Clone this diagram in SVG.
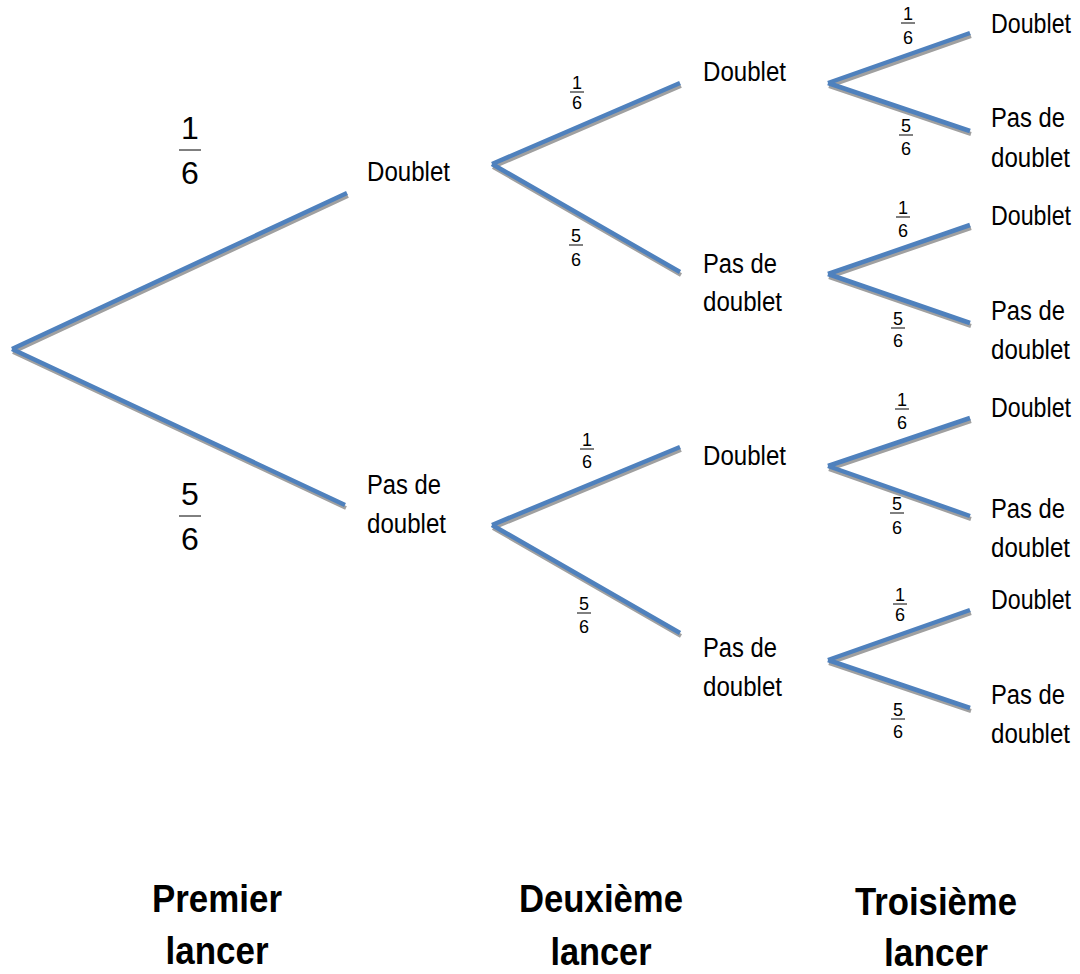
<svg xmlns="http://www.w3.org/2000/svg" xmlns:xlink="http://www.w3.org/1999/xlink" width="1080" height="974" viewBox="0 0 1080 974">
<style>
.br{stroke:#4F81BD;stroke-width:4.5;fill:none;stroke-linecap:butt}
.sh{stroke:#A0A0A0;stroke-width:4;fill:none}
.lb{font-family:"Liberation Sans",Arial,sans-serif;font-size:27px;fill:#000}
.fs{font-family:"Liberation Sans",Arial,sans-serif;font-size:18px;fill:#000;text-anchor:middle}
.fb{font-family:"Liberation Sans",Arial,sans-serif;font-size:32px;fill:#000;text-anchor:middle}
.tt{font-family:"Liberation Sans",Arial,sans-serif;font-size:38px;font-weight:bold;fill:#000;text-anchor:middle}
.bar{stroke:#000;stroke-width:1}
</style>
<defs>
<g id="lines">
<path d="M12,349 L347,193 M12,349 L345,505"/>
<path d="M492,164 L680,83 M492,164 L680,272"/>
<path d="M492,525 L680,447 M492,525 L680,633"/>
<path d="M828,83 L970,33 M828,83 L970,131"/>
<path d="M828,274 L970,225 M828,274 L970,323"/>
<path d="M828,466 L970,418 M828,466 L970,516"/>
<path d="M828,660 L970,610 M828,660 L970,708"/>
</g>
</defs>
<g id="connectors">
<use xlink:href="#lines" class="sh" transform="translate(1,3)"/>
<use xlink:href="#lines" class="br"/>
</g>
<g id="n-d1"><text class="lb" x="367" y="181" textLength="83" lengthAdjust="spacingAndGlyphs">Doublet</text></g>
<g id="n-p1"><text class="lb" x="367" y="494" textLength="74" lengthAdjust="spacingAndGlyphs">Pas de</text><text class="lb" x="367" y="533" textLength="79" lengthAdjust="spacingAndGlyphs">doublet</text></g>
<g id="n-dd"><text class="lb" x="703" y="81" textLength="83" lengthAdjust="spacingAndGlyphs">Doublet</text></g>
<g id="n-dp"><text class="lb" x="703" y="273" textLength="74" lengthAdjust="spacingAndGlyphs">Pas de</text><text class="lb" x="703" y="311" textLength="79" lengthAdjust="spacingAndGlyphs">doublet</text></g>
<g id="n-pd"><text class="lb" x="703" y="465" textLength="83" lengthAdjust="spacingAndGlyphs">Doublet</text></g>
<g id="n-pp"><text class="lb" x="703" y="657" textLength="74" lengthAdjust="spacingAndGlyphs">Pas de</text><text class="lb" x="703" y="696" textLength="79" lengthAdjust="spacingAndGlyphs">doublet</text></g>
<g id="leaves">
<text class="lb" transform="translate(991,33) scale(0.86,1)">Doublet</text>
<text class="lb" x="991" y="127" textLength="74" lengthAdjust="spacingAndGlyphs">Pas de</text><text class="lb" x="991" y="167" textLength="79" lengthAdjust="spacingAndGlyphs">doublet</text>
<text class="lb" transform="translate(991,225) scale(0.86,1)">Doublet</text>
<text class="lb" x="991" y="320" textLength="74" lengthAdjust="spacingAndGlyphs">Pas de</text><text class="lb" x="991" y="359" textLength="79" lengthAdjust="spacingAndGlyphs">doublet</text>
<text class="lb" transform="translate(991,417) scale(0.86,1)">Doublet</text>
<text class="lb" x="991" y="518" textLength="74" lengthAdjust="spacingAndGlyphs">Pas de</text><text class="lb" x="991" y="557" textLength="79" lengthAdjust="spacingAndGlyphs">doublet</text>
<text class="lb" transform="translate(991,609) scale(0.86,1)">Doublet</text>
<text class="lb" x="991" y="704" textLength="74" lengthAdjust="spacingAndGlyphs">Pas de</text><text class="lb" x="991" y="743" textLength="79" lengthAdjust="spacingAndGlyphs">doublet</text>
</g>
<g id="fractions-big">
<text class="fb" x="190" y="139">1</text><line class="bar" x1="179" y1="150" x2="201" y2="150"/><text class="fb" x="190" y="184">6</text>
<text class="fb" x="190" y="505">5</text><line class="bar" x1="179" y1="516" x2="201" y2="516"/><text class="fb" x="190" y="550">6</text>
</g>
<g id="fractions-small">
<text class="fs" x="577" y="89">1</text><line class="bar" x1="570" y1="92" x2="584" y2="92"/><text class="fs" x="577" y="109">6</text>
<text class="fs" x="576" y="242">5</text><line class="bar" x1="569" y1="245" x2="583" y2="245"/><text class="fs" x="576" y="266">6</text>
<text class="fs" x="587" y="446">1</text><line class="bar" x1="580" y1="449" x2="594" y2="449"/><text class="fs" x="587" y="468">6</text>
<text class="fs" x="584" y="610">5</text><line class="bar" x1="577" y1="613" x2="591" y2="613"/><text class="fs" x="584" y="633">6</text>
<text class="fs" x="908" y="20">1</text><line class="bar" x1="901" y1="23" x2="915" y2="23"/><text class="fs" x="908" y="44">6</text>
<text class="fs" x="906" y="132">5</text><line class="bar" x1="899" y1="135" x2="913" y2="135"/><text class="fs" x="906" y="155">6</text>
<text class="fs" x="903" y="214">1</text><line class="bar" x1="896" y1="217" x2="910" y2="217"/><text class="fs" x="903" y="237">6</text>
<text class="fs" x="898" y="325">5</text><line class="bar" x1="891" y1="328" x2="905" y2="328"/><text class="fs" x="898" y="347">6</text>
<text class="fs" x="902" y="406">1</text><line class="bar" x1="895" y1="409" x2="909" y2="409"/><text class="fs" x="902" y="429">6</text>
<text class="fs" x="897" y="510">5</text><line class="bar" x1="890" y1="513" x2="904" y2="513"/><text class="fs" x="897" y="534">6</text>
<text class="fs" x="900" y="601">1</text><line class="bar" x1="893" y1="604" x2="907" y2="604"/><text class="fs" x="900" y="621">6</text>
<text class="fs" x="898" y="716">5</text><line class="bar" x1="891" y1="719" x2="905" y2="719"/><text class="fs" x="898" y="738">6</text>
</g>
<g id="titles">
<text class="tt" x="217" y="912" textLength="130" lengthAdjust="spacingAndGlyphs">Premier</text><text class="tt" x="217" y="964" textLength="103" lengthAdjust="spacingAndGlyphs">lancer</text>
<text class="tt" x="601" y="912" textLength="164" lengthAdjust="spacingAndGlyphs">Deuxième</text><text class="tt" x="601" y="965" textLength="101" lengthAdjust="spacingAndGlyphs">lancer</text>
<text class="tt" x="936" y="915" textLength="162" lengthAdjust="spacingAndGlyphs">Troisième</text><text class="tt" x="936" y="966" textLength="104" lengthAdjust="spacingAndGlyphs">lancer</text>
</g>
</svg>
